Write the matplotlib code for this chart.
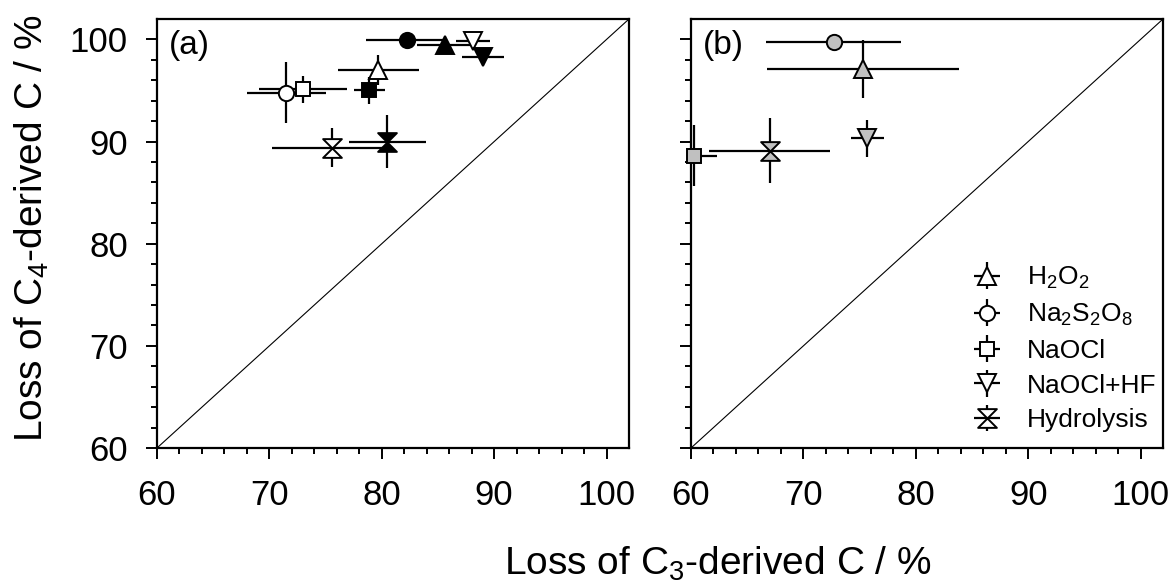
import matplotlib
matplotlib.use('Agg')
import matplotlib.pyplot as plt
import numpy as np
from matplotlib.path import Path

plt.rcParams['font.family'] = ['Liberation Sans', 'DejaVu Sans']
plt.rcParams['mathtext.fontset'] = 'custom'
plt.rcParams['mathtext.rm'] = 'Liberation Sans'
plt.rcParams['mathtext.it'] = 'Liberation Sans:italic'
plt.rcParams['mathtext.default'] = 'regular'

# treatments, in legend order
labels = ['H$_2$O$_2$', 'Na$_2$S$_2$O$_8$', 'NaOCl', 'NaOCl+HF', 'Hydrolysis']

# panel (a), open symbols
a_open_x = [79.7, 71.5, 73.0, 88.1, 75.6]
a_open_xerr = [3.6, 3.5, 3.9, 1.5, 5.4]
a_open_y = [97.0, 94.8, 95.1, 99.8, 89.4]
a_open_yerr = [1.5, 3.0, 1.3, 0.3, 1.9]

# panel (a), filled symbols
a_fill_x = [85.6, 82.2, 78.9, 89.0, 80.5]
a_fill_xerr = [2.5, 3.6, 1.4, 1.9, 3.4]
a_fill_y = [99.5, 99.9, 95.0, 98.3, 90.0]
a_fill_yerr = [0.3, 0.2, 1.3, 0.3, 2.6]

# panel (b), grey symbols
b_x = [75.3, 72.7, 60.3, 75.7, 67.0]
b_xerr = [8.5, 6.0, 2.0, 1.5, 5.4]
b_y = [97.1, 99.7, 88.6, 90.3, 89.1]
b_yerr = [2.8, 0.3, 3.0, 1.8, 3.2]

hourglass = Path([(-1, 1), (1, 1), (-1, -1), (1, -1), (-1, 1)],
                 [Path.MOVETO, Path.LINETO, Path.LINETO, Path.LINETO, Path.CLOSEPOLY])
markers = ['^', 'o', 's', 'v', hourglass]
sizes = [13, 11, 9.5, 13, 13.5]

fig = plt.figure(figsize=(11.76, 5.84), dpi=100)
ax_a = fig.add_axes([0.1335, 0.2329, 0.4014, 0.7346])
ax_b = fig.add_axes([0.5876, 0.2329, 0.4014, 0.7346])


def draw_points(ax, xs, xerr, ys, yerr, face):
    for i in range(len(xs)):
        ax.errorbar(xs[i], ys[i], xerr=xerr[i], yerr=yerr[i], fmt='none',
                    ecolor='black', elinewidth=1.6, capsize=0, zorder=2)
        ax.plot(xs[i], ys[i], linestyle='none', marker=markers[i],
                ms=sizes[i], mfc=face, mec='black', mew=1.4, zorder=3,
                clip_on=False)


draw_points(ax_a, a_open_x, a_open_xerr, a_open_y, a_open_yerr, 'white')
draw_points(ax_a, a_fill_x, a_fill_xerr, a_fill_y, a_fill_yerr, 'black')
draw_points(ax_b, b_x, b_xerr, b_y, b_yerr, '#c0c0c0')

# legend handles: open symbols with error bars
handles = []
for i in range(len(labels)):
    h = ax_b.errorbar([np.nan], [np.nan], xerr=[1], yerr=[1], fmt=' ',
                      marker=markers[i], ms=sizes[i], mfc='white', mec='black',
                      mew=1.4, ecolor='black', elinewidth=1.6, capsize=0)
    handles.append(h)
ax_b.legend(handles, labels, loc='upper left', bbox_to_anchor=(0.594, 0.427),
            frameon=False, fontsize=19, handlelength=1.2, handletextpad=0.9,
            labelspacing=0.41, borderpad=0, borderaxespad=0)

for ax, tag in [(ax_a, '(a)'), (ax_b, '(b)')]:
    ax.plot([60, 102], [60, 102], color='black', lw=0.8, zorder=1)
    ax.set_xlim(60, 102)
    ax.set_ylim(60, 102)
    ax.set_xticks([60, 70, 80, 90, 100])
    ax.set_yticks([60, 70, 80, 90, 100])
    ax.set_xticks(np.arange(60, 102, 2), minor=True)
    ax.set_yticks(np.arange(60, 102, 2), minor=True)
    ax.tick_params(which='both', direction='out', top=False, right=False,
                   width=1.4, labelsize=25)
    ax.tick_params(which='major', length=8)
    ax.tick_params(which='minor', length=4)
    ax.tick_params(axis='x', which='major', pad=14)
    ax.tick_params(axis='y', which='major', pad=13)
    for s in ax.spines.values():
        s.set_linewidth(1.6)
    ax.text(0.025, 0.975, tag, transform=ax.transAxes, ha='left', va='top',
            fontsize=24)

ax_b.tick_params(labelleft=False)

fig.text(0.61, 0.035, 'Loss of C$_3$-derived C / %', ha='center', va='center',
         fontsize=28)
fig.text(0.027, 0.61, 'Loss of C$_4$-derived C / %', ha='center', va='center',
         rotation=90, fontsize=28)

fig.savefig('out.png', dpi=100)
